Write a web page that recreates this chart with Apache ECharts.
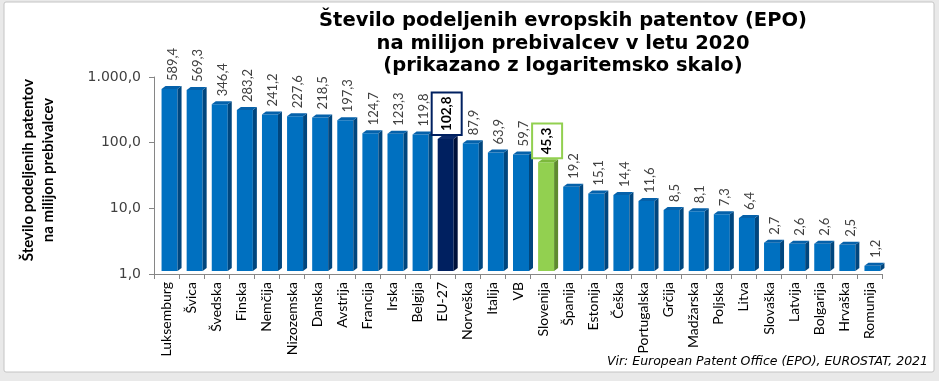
<!DOCTYPE html>
<html>
<head>
<meta charset="utf-8">
<script src="https://cdn.jsdelivr.net/npm/echarts@6/dist/echarts.min.js"></script>
<style>
html,body{margin:0;padding:0;background:#e9e9e9;}
#c{width:939px;height:381px;}
</style>
</head>
<body>
<div id="c"></div>
<script>
const categories = ['Luksemburg','Švica','Švedska','Finska','Nemčija','Nizozemska','Danska','Avstrija','Francija','Irska','Belgija','EU-27','Norveška','Italija','VB','Slovenija','Španija','Estonija','Češka','Portugalska','Grčija','Madžarska','Poljska','Litva','Slovaška','Latvija','Bolgarija','Hrvaška','Romunija'];
const values = [589.4,569.3,346.4,283.2,241.2,227.6,218.5,197.3,124.7,123.3,119.8,102.8,87.9,63.9,59.7,45.3,19.2,15.1,14.4,11.6,8.5,8.1,7.3,6.4,2.7,2.6,2.6,2.5,1.2];
const yTicks = [1,10,100,1000];
const titleLines = ['Število podeljenih evropskih patentov (EPO)','na milijon prebivalcev v letu 2020','(prikazano z logaritemsko skalo)'];
const yAxisTitle = ['Število podeljenih patentov','na milijon prebivalcev'];
const sourceText = 'Vir: European Patent Office (EPO), EUROSTAT, 2021';

function fmt(v){
  let s = Number(v).toFixed(1);
  let parts = s.split('.');
  let i = parts[0].replace(/\B(?=(\d{3})+(?!\d))/g,'.');
  return i + ',' + parts[1];
}

const palette = {
  normal: {front:'#0070C0', side:'#00467E', top:'#0561AA'},
  'EU-27': {front:'#002060', side:'#00113A', top:'#0B2A6A', box:'#002060'},
  'Slovenija': {front:'#92D050', side:'#5E8A2E', top:'#7CB83C', box:'#92D050'}
};

const chart = echarts.init(document.getElementById('c'), null, {renderer:'canvas'});

const lift = 3;
function renderItem(params, api){
  const idx = api.value(0);
  const name = categories[idx];
  const val = api.value(1);
  const p = api.coord([idx, val]);
  const b = api.coord([idx, 1]);
  const cx = p[0];
  const top = p[1] - lift;
  const bottom = b[1] - lift;
  const col = palette[name] || palette.normal;
  const x0 = cx - 5, x1 = cx + 11, d = 4, dy = 3;
  const children = [
    {type:'rect', shape:{x:x0, y:top, width:x1-x0, height:bottom-top}, style:{fill:col.front}},
    {type:'polygon', shape:{points:[[x1,top],[x1+d,top-dy],[x1+d,bottom-dy],[x1,bottom]]}, style:{fill:col.side}},
    {type:'polygon', shape:{points:[[x0,top],[x0+d,top-dy],[x1+d,top-dy],[x1,top]]}, style:{fill:col.top}}
  ];
  if (col.box) {
    children.push({type:'text', x: cx + 4, y: top - 5, rotation: Math.PI/2,
      style:{text: fmt(val), align:'left', verticalAlign:'middle',
        fontFamily:'Lato', fontSize:13.5, fontWeight:'bold', fill:'#000',
        backgroundColor:'#fff', borderColor: col.box, borderWidth:2, padding:[7,3,7,3]}});
  } else {
    children.push({type:'text', x: cx + 6, y: top - 8, rotation: Math.PI/2,
      style:{text: fmt(val), align:'left', verticalAlign:'middle',
        fontFamily:'Lato', fontSize:13, fill:'#404040'}});
  }
  return {type:'group', children: children};
}

const option = {
  animation:false,
  backgroundColor:'transparent',
  graphic:[
    {type:'rect', z:-10, shape:{x:4, y:2, width:930, height:370, r:2}, style:{fill:'#fff', stroke:'#c4c4c4', lineWidth:1}},
    {type:'text', x:563, y:10, style:{text: titleLines.join('\n'), align:'center', verticalAlign:'top',
      fontFamily:'DejaVu Sans', fontSize:19.5, fontWeight:'bold', lineHeight:22.5, fill:'#000'}},
    {type:'text', x:38, y:170, rotation:Math.PI/2, style:{text: yAxisTitle.join('\n'), align:'center', verticalAlign:'middle',
      fontFamily:'Lato', fontSize:15, fontWeight:'bold', lineHeight:20, fill:'#000'}},
    {type:'text', x:928, y:368, style:{text: sourceText, align:'right', verticalAlign:'bottom',
      fontFamily:'DejaVu Sans', fontSize:12.5, fontStyle:'italic', fill:'#000'}}
  ],
  grid:{left:154, right:57, top:77, bottom:107, containLabel:false},
  xAxis:{
    type:'category', data:categories,
    axisLine:{lineStyle:{color:'#868686', width:1}},
    axisTick:{show:true, length:5, interval:0, lineStyle:{color:'#868686'}},
    axisLabel:{interval:0, rotate:90, margin:8, color:'#000', fontSize:14, fontFamily:'Lato'},
    splitLine:{show:false}
  },
  yAxis:{
    type:'log', logBase:10, min:yTicks[0], max:yTicks[yTicks.length-1],
    axisLine:{show:true, lineStyle:{color:'#868686', width:1}},
    axisTick:{show:true, length:5, lineStyle:{color:'#868686'}},
    axisLabel:{formatter: v => fmt(v), color:'#404040', fontSize:14, fontFamily:'DejaVu Sans', margin:13},
    splitLine:{show:false}
  },
  series:[{
    type:'custom', clip:false,
    renderItem: renderItem,
    encode:{x:0, y:1},
    data: values.map((v,i) => [i, v])
  }]
};
chart.setOption(option);
</script>
</body>
</html>
